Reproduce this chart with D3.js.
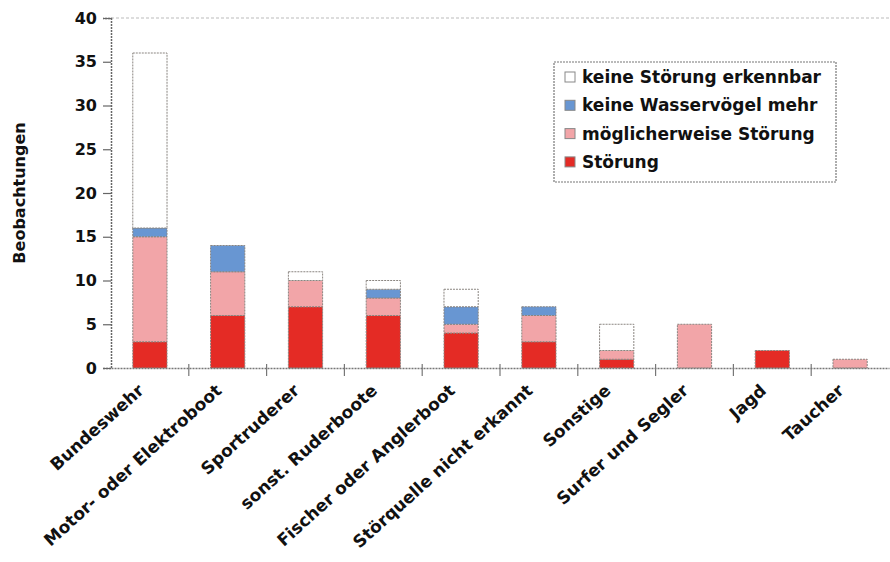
<!DOCTYPE html>
<html><head><meta charset="utf-8">
<script src="https://cdn.jsdelivr.net/npm/d3@7"></script>
<style>body{margin:0;background:#fff}svg{display:block}</style>
</head><body>
<svg id="c" width="890" height="562"></svg>
<script>
const categories = ["Bundeswehr","Motor- oder Elektroboot","Sportruderer","sonst. Ruderboote","Fischer oder Anglerboot","Störquelle nicht erkannt","Sonstige","Surfer und Segler","Jagd","Taucher"];
const seriesNames = ["Störung","möglicherweise Störung","keine Wasservögel mehr","keine Störung erkennbar"];
const stoerung       = [3, 6, 7, 6, 4, 3, 1, 0, 2, 0];
const moeglich       = [12, 5, 3, 2, 1, 3, 1, 5, 0, 1];
const keineVoegel    = [1, 3, 0, 1, 2, 1, 0, 0, 0, 0];
const keineStoerung  = [20, 0, 1, 1, 2, 0, 3, 0, 0, 0];
const yTicks = [0,5,10,15,20,25,30,35,40];
const colors = ["#e42b25","#f2a5a8","#6896d2","#ffffff"];

const svg = d3.select("#c");
const font = "'DejaVu Sans', sans-serif";
const m = {l:111, r:889, t:18, b:368};
const x = d3.scaleBand().domain(categories).range([m.l, m.r]).paddingInner(0.56).paddingOuter(0.28);
const y = d3.scaleLinear().domain([0,40]).range([m.b, m.t]);

const rows = categories.map((c,i)=>{const o={cat:c}; [stoerung,moeglich,keineVoegel,keineStoerung].forEach((a,k)=>o[seriesNames[k]]=a[i]); return o;});
const stacked = d3.stack().keys(seriesNames)(rows);

// top border
svg.append("line").attr("x1",m.l).attr("x2",m.r).attr("y1",m.t).attr("y2",m.t)
  .attr("stroke","#bbb").attr("stroke-width",1.2).attr("stroke-dasharray","3,2");

stacked.forEach((s,k)=>{
  svg.append("g").selectAll("rect").data(s.filter(d=>d[1]-d[0]>0)).join("rect")
    .attr("x",d=>x(d.data.cat)).attr("width",x.bandwidth())
    .attr("y",d=>y(d[1])).attr("height",d=>y(d[0])-y(d[1]))
    .attr("fill",colors[k]).attr("stroke","#8a8580").attr("stroke-width",1)
    .attr("stroke-dasharray","2,1");
});

// y axis
const ya = svg.append("g").attr("transform",`translate(${m.l},0)`)
  .call(d3.axisLeft(y).tickValues(yTicks).tickSize(8).tickPadding(6));
ya.select(".domain").attr("stroke","#666").attr("stroke-width",1.5).attr("stroke-dasharray","2,1");
ya.selectAll(".tick line").attr("stroke","#666").attr("stroke-width",1.2);
ya.selectAll("text").attr("font-family",font).attr("font-size",16).attr("font-weight","bold").attr("fill","#111");

// x axis
const xa = svg.append("g").attr("transform",`translate(0,${m.b})`)
  .call(d3.axisBottom(x).tickSize(0).tickFormat(""));
xa.select(".domain").attr("stroke","#777").attr("stroke-width",1.5).attr("stroke-dasharray","2,1");
const step = x.step();
svg.append("g").selectAll("line").data(categories.slice(1)).join("line")
  .attr("x1",d=>x(d)-(step-x.bandwidth())/2).attr("x2",d=>x(d)-(step-x.bandwidth())/2)
  .attr("y1",m.b-4).attr("y2",m.b+8).attr("stroke","#777").attr("stroke-width",1.2);

svg.append("g").selectAll("text").data(categories).join("text")
  .attr("transform",d=>`translate(${x(d)+x.bandwidth()/2-5},${m.b+24}) rotate(-42)`)
  .attr("text-anchor","end").attr("font-family",font).attr("font-size",17).attr("font-weight","bold")
  .attr("fill","#111").text(d=>d);

// y title
svg.append("text").attr("transform",`translate(25,${(m.t+m.b)/2}) rotate(-90)`)
  .attr("text-anchor","middle").attr("font-family",font).attr("font-size",16).attr("font-weight","bold")
  .attr("fill","#111").text("Beobachtungen");

// legend
const lg = svg.append("g");
lg.append("rect").attr("x",554).attr("y",62).attr("width",282).attr("height",120)
  .attr("fill","#fff").attr("stroke","#777").attr("stroke-width",1.2).attr("stroke-dasharray","2,1");
const legendOrder = seriesNames.slice().reverse();
legendOrder.forEach((n,i)=>{
  const k = seriesNames.indexOf(n);
  const cy = 77 + i*28.3;
  lg.append("rect").attr("x",565).attr("y",cy-5).attr("width",10).attr("height",10)
    .attr("fill",colors[k]).attr("stroke","#888").attr("stroke-width",1);
  lg.append("text").attr("x",582).attr("y",cy).attr("dy","0.35em")
    .attr("font-family",font).attr("font-size",17).attr("font-weight","bold").attr("fill","#111").text(n);
});
</script>
</body></html>
